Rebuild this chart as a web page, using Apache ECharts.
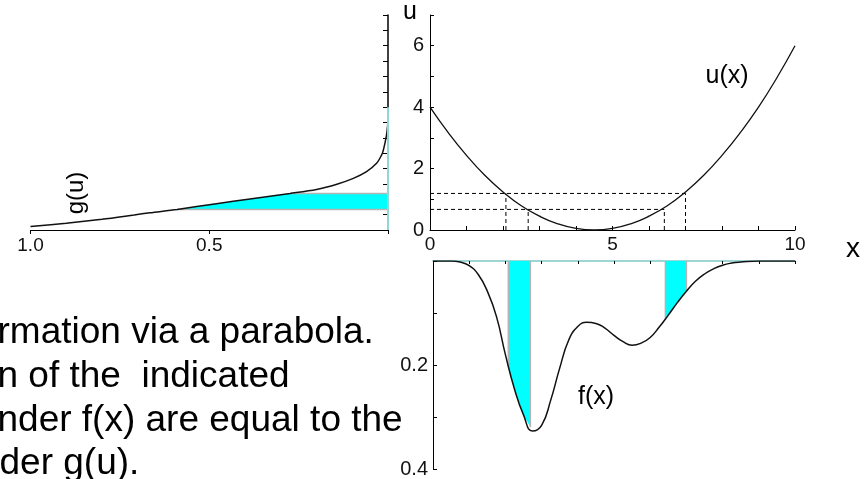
<!DOCTYPE html>
<html><head><meta charset="utf-8">
<script src="https://cdn.jsdelivr.net/npm/echarts@6/dist/echarts.min.js"></script>
<style>html,body{margin:0;padding:0;background:#fff;overflow:hidden}#c{width:867px;height:479px}</style>
</head><body><div id="c"></div>
<script>
// u(x) parabola
const uX   = [0,0.5,1,1.5,2,2.5,3,3.5,4,4.5,5,5.5,6,6.5,7,7.5,8,8.5,9,9.5,10];
const uVal = [4.0,3.17,2.43,1.78,1.24,0.79,0.45,0.2,0.05,0,0.05,0.2,0.45,0.79,1.24,1.78,2.43,3.17,4.0,4.95,6.0];
// f(x) density (lower panel)
const fX   = [0,0.5,0.75,1,1.25,1.5,1.75,2,2.25,2.5,2.75,3,3.25,3.5,3.75,4,4.25,4.5,4.75,5,5.25,5.5,5.75,6,6.25,6.5,6.75,7,7.25,7.5,7.75,8,8.25,8.5,9,10];
const fVal = [0,0,0.002,0.009,0.026,0.058,0.106,0.18,0.246,0.296,0.327,0.316,0.268,0.206,0.152,0.126,0.118,0.12,0.129,0.143,0.155,0.162,0.158,0.147,0.127,0.104,0.08,0.058,0.039,0.025,0.015,0.008,0.004,0.002,0,0];
// g(u) density (left panel): g values and matching u values
const gVal = [1.0,0.9,0.8,0.71,0.666,0.59,0.48,0.386,0.274,0.2,0.143,0.097,0.06,0.032,0.018,0.013,0.004,0.001,0];
const gU   = [0.11,0.22,0.35,0.49,0.56,0.67,0.855,1.01,1.19,1.32,1.49,1.68,1.9,2.17,2.44,2.6,3.1,3.4,3.6];
// indicated intervals
const xCuts   = [2.08, 2.69, 6.42, 7.0];
const uLevels = [0.67, 1.19];
const gAxisCyanTop = 4;
// tick labels
const xTickLabels = ['0','5','10'];
const uTickLabels = ['0','2','4','6'];
const gTickLabels = ['1.0','0.5'];
const fTickLabels = ['0.2','0.4'];
const textLines = ['rmation via a parabola.','n of the  indicated','nder f(x) are equal to the','der g(u).'];

function interp(xs, ys, x){
  for (let i=1;i<xs.length;i++){
    if (x<=xs[i]){ const t=(x-xs[i-1])/(xs[i]-xs[i-1]); return ys[i-1]+t*(ys[i]-ys[i-1]); }
  }
  return ys[ys.length-1];
}
const FONT = 'Liberation Sans, Arial, sans-serif';
const CYAN = '#00ffff';
const EDGE = '#b5b5b5';

const fBands = [[xCuts[0],xCuts[1]],[xCuts[2],xCuts[3]]];
const dashSegs = [
  [[0,uLevels[1]],[xCuts[3],uLevels[1]]],
  [[0,uLevels[0]],[xCuts[2],uLevels[0]]],
  [[xCuts[0],0],[xCuts[0],uLevels[1]]],
  [[xCuts[1],0],[xCuts[1],uLevels[0]]],
  [[xCuts[2],0],[xCuts[2],uLevels[0]]],
  [[xCuts[3],0],[xCuts[3],uLevels[1]]]
];

const chart = echarts.init(document.getElementById('c'), null, {renderer:'canvas'});
const lbl = (arr, size, fmt) => ({fontSize:size, color:'#111', fontFamily:FONT,
  formatter: v => { const s = fmt(v); return arr.includes(s) ? s : ''; }});

const series = [];
// lower cyan bands
series.push({
  type:'custom', xAxisIndex:2, yAxisIndex:2, z:1, silent:true,
  data: fBands.map(b=>[b[0],0]),
  renderItem:(params, api)=>{
    const [a,b] = fBands[params.dataIndex];
    const pts = [[a,0],[a,interp(fX,fVal,a)]];
    fX.forEach((x,i)=>{ if(x>a && x<b) pts.push([x,fVal[i]]); });
    pts.push([b,interp(fX,fVal,b)],[b,0]);
    const P = pts.map(p=>api.coord(p));
    return {type:'group', children:[
      {type:'polygon', shape:{points:P}, style:{fill:CYAN}},
      {type:'polyline', shape:{points:[P[0],P[1]]}, style:{stroke:EDGE, lineWidth:1.5, fill:null}},
      {type:'polyline', shape:{points:[P[P.length-2],P[P.length-1]]}, style:{stroke:EDGE, lineWidth:1.5, fill:null}}
    ]};
  }
});
// left cyan band
series.push({
  type:'custom', xAxisIndex:1, yAxisIndex:1, z:1, silent:true,
  data: [[0, uLevels[0]]],
  renderItem:(params, api)=>{
    const lo = uLevels[0], hi = uLevels[1];
    const pts = [[interp(gU,gVal,lo),lo]];
    gU.forEach((u,i)=>{ if(u>lo && u<hi) pts.push([gVal[i],u]); });
    pts.push([interp(gU,gVal,hi),hi],[0,hi],[0,lo]);
    const P = pts.map(p=>api.coord(p));
    const n = P.length;
    return {type:'group', children:[
      {type:'polygon', shape:{points:P}, style:{fill:CYAN}},
      {type:'polyline', shape:{points:[P[n-3],P[n-2]]}, style:{stroke:EDGE, lineWidth:1.5, fill:null}},
      {type:'polyline', shape:{points:[P[n-1],P[0]]}, style:{stroke:EDGE, lineWidth:1.5, fill:null}}
    ]};
  }
});
// cyan part of left vertical axis
series.push({type:'line', xAxisIndex:1, yAxisIndex:1, z:4, clip:false, symbol:'none', silent:true,
  data:[[0,0],[0,gAxisCyanTop]], lineStyle:{color:'#8fd8d8', width:2}});
// dashed guide lines
dashSegs.forEach(seg=>series.push({type:'line', xAxisIndex:0, yAxisIndex:0, z:2, symbol:'none', silent:true,
  data:seg, lineStyle:{color:'#000', width:1, type:[4,3]}}));
// curves
series.push({type:'line', xAxisIndex:0, yAxisIndex:0, z:3, symbol:'none', smooth:0.5, silent:true,
  data:uX.map((x,i)=>[x,uVal[i]]), lineStyle:{color:'#111', width:1.3}});
series.push({type:'line', xAxisIndex:2, yAxisIndex:2, z:3, symbol:'none', smooth:0.5, silent:true,
  data:fX.map((x,i)=>[x,fVal[i]]), lineStyle:{color:'#111', width:1.5}});
series.push({type:'line', xAxisIndex:1, yAxisIndex:1, z:3, symbol:'none', smooth:0.3, silent:true, clip:false,
  data:gVal.map((g,i)=>[g,gU[i]]), lineStyle:{color:'#111', width:1.5}});

const T = (text, x, y, size, extra) => Object.assign({type:'text', x, y, style:{text, fontSize:size, fontFamily:FONT, fill:'#000', textAlign:'center', textVerticalAlign:'middle'}}, extra||{});

chart.setOption({
  animation:false,
  backgroundColor:'#fff',
  textStyle:{fontFamily:FONT},
  grid:[
    {left:430, top:15, width:365, height:215},
    {left:30.5, top:15, width:357.5, height:215},
    {left:433, top:261, width:362, height:209}
  ],
  xAxis:[
    {gridIndex:0, type:'value', min:0, max:10, interval:1, splitLine:{show:false},
     axisLine:{lineStyle:{color:'#000', width:1}}, axisTick:{inside:true, length:4, lineStyle:{color:'#000'}},
     axisLabel:Object.assign(lbl(xTickLabels,19,v=>String(v)),{margin:5})},
    {gridIndex:1, type:'value', min:0, max:1, interval:0.5, inverse:true, splitLine:{show:false},
     axisLine:{lineStyle:{color:'#000', width:1.2}}, axisTick:{inside:false, length:4, lineStyle:{color:'#000'}},
     axisLabel:Object.assign(lbl(gTickLabels,19,v=>v.toFixed(1)),{margin:6})},
    {gridIndex:2, type:'value', min:0, max:10, interval:1, position:'top', splitLine:{show:false},
     axisLine:{onZero:false, lineStyle:{color:'#9ed6d6', width:2}}, axisTick:{inside:true, length:3, lineStyle:{color:'#000'}},
     axisLabel:{show:false}}
  ],
  yAxis:[
    {gridIndex:0, type:'value', min:0, max:7, interval:1, splitLine:{show:false},
     axisLine:{show:true, lineStyle:{color:'#000', width:1}}, axisTick:{show:true, inside:true, length:4, lineStyle:{color:'#000'}},
     axisLabel:Object.assign(lbl(uTickLabels,20,v=>String(v)),{margin:6})},
    {gridIndex:1, type:'value', min:0, max:7, interval:0.5, position:'right', splitLine:{show:false},
     axisLine:{show:true, lineStyle:{color:'#000', width:1.5}}, axisTick:{show:true, inside:true, length:5, lineStyle:{color:'#000'}},
     axisLabel:{show:false}},
    {gridIndex:2, type:'value', min:0, max:0.4, interval:0.1, inverse:true, splitLine:{show:false},
     axisLine:{show:true, lineStyle:{color:'#000', width:1}}, axisTick:{show:true, inside:true, length:4, lineStyle:{color:'#000'}},
     axisLabel:Object.assign(lbl(fTickLabels,20,v=>v.toFixed(1)),{margin:5})}
  ],
  graphic:[
    T('u', 410, 12, 25),
    T('x', 853, 249, 28),
    T('u(x)', 727, 76, 25),
    T('f(x)', 596, 397, 25),
    T('g(u)', 76, 193, 24, {rotation:Math.PI/2}),
    ...textLines.map((t,i)=>({type:'text', x:[-2.5,-2.5,-2.5,-0.5][i], y:[351,395,439,482][i],
      style:{text:t, fontSize:37, fontFamily:FONT, fill:'#000', textAlign:'left', textVerticalAlign:'bottom'}}))
  ],
  series
});
</script></body></html>
